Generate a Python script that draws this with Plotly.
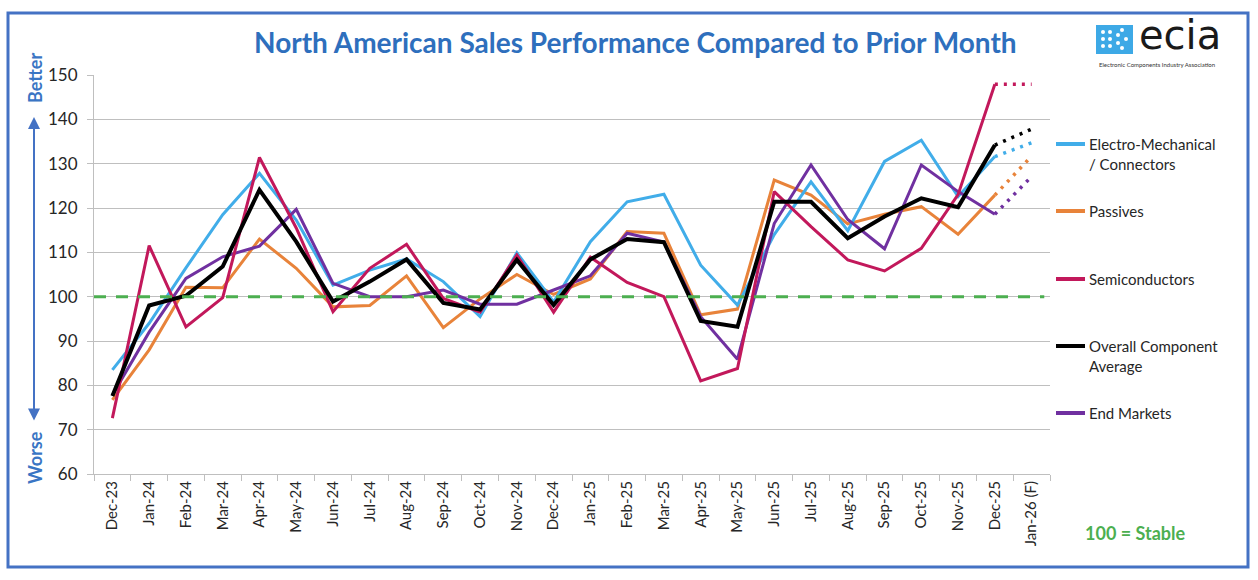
import plotly.graph_objects as go

# ---------------- data ----------------
categories = ["Dec-23", "Jan-24", "Feb-24", "Mar-24", "Apr-24", "May-24", "Jun-24", "Jul-24",
              "Aug-24", "Sep-24", "Oct-24", "Nov-24", "Dec-24", "Jan-25", "Feb-25", "Mar-25",
              "Apr-25", "May-25", "Jun-25", "Jul-25", "Aug-25", "Sep-25", "Oct-25", "Nov-25",
              "Dec-25", "Jan-26 (F)"]

electro_mech = [83.5, 94, 106.5, 118.5, 127.8, 117.3, 102.6, 106, 108.5, 103.4, 95.5, 109.9, 98.8,
                112.4, 121.4, 123.1, 107.1, 98.1, 114, 125.9, 114.9, 130.5, 135.3, 122.6, 131.6, 134.7]
passives = [76.7, 88, 102.1, 102, 113, 106.4, 97.7, 98, 104.7, 93, 99.5, 105, 100.5,
            104, 114.7, 114.3, 95.9, 97.2, 126.3, 122.9, 116.4, 118.6, 120.3, 114.1, 122.9, 131.7]
semiconductors = [72.6, 111.5, 93.2, 99.8, 131.4, 115.5, 96.6, 106.4, 111.8, 99.6, 96.5, 109.4, 96.5,
                  108.9, 103.2, 100, 81, 83.8, 123.7, 115.8, 108.3, 105.8, 110.9, 123, 147.9, 147.9]
overall_avg = [77.6, 98, 100.2, 106.8, 124.1, 112.4, 98.9, 103.4, 108.4, 98.6, 97.1, 108.3, 98.1,
               108.4, 113, 112.3, 94.5, 93.2, 121.4, 121.4, 113.2, 118.1, 122.2, 120.2, 134.2, 137.8]
end_markets = [77.8, 92, 104.1, 109, 111.4, 119.7, 103, 100, 100, 101.5, 98.3, 98.3, 101.5,
               104.7, 114.3, 112.3, 95.5, 85.9, 116.5, 129.7, 117.4, 110.8, 129.7, 123.7, 118.6, 127.1]

series_names = ["Electro-Mechanical<br>/ Connectors", "Passives", "Semiconductors",
                "Overall Component<br>Average", "End Markets"]
STABLE = 100
FORECAST_POINTS = 2  # last segment is dotted (forecast)

# ---------------- styling ----------------
W, H = 1258, 580
L, R, T, B = 94, 208, 75, 106
PW, PH = W - L - R, H - T - B
FONT = "Lato"

def px(x):
    return (x - L) / PW

def py(y):
    return (H - B - y) / PH

colors = ["#41ADE9", "#E8833A", "#C2185B", "#000000", "#7030A0"]
widths = [3, 3, 3, 4, 3]
all_series = [electro_mech, passives, semiconductors, overall_avg, end_markets]
draw_order = [1, 0, 4, 2, 3]

fig = go.Figure()
for i in draw_order:
    vals = all_series[i]
    n_solid = len(vals) - FORECAST_POINTS + 1
    fig.add_trace(go.Scatter(x=categories[:n_solid], y=vals[:n_solid], mode="lines",
                             line=dict(color=colors[i], width=widths[i]),
                             name=series_names[i], showlegend=False, hoverinfo="skip"))
    fig.add_trace(go.Scatter(x=categories[n_solid - 1:], y=vals[n_solid - 1:], mode="lines",
                             line=dict(color=colors[i], width=3.5, dash="3px,6px"),
                             showlegend=False, hoverinfo="skip"))

shapes = []
shapes.append(dict(type="line", xref="paper", yref="y", x0=0, x1=0.994, y0=STABLE, y1=STABLE,
                   line=dict(color="#4CAF50", width=3, dash="12px,10px"), layer="above"))
shapes.append(dict(type="rect", xref="paper", yref="paper", x0=px(8), x1=px(1248), y0=py(567), y1=py(13),
                   line=dict(color="#4472C4", width=3)))

legend_rows = [(144, 154), (211, 211), (279, 279), (346, 356), (413, 413)]
annotations = []
for i, (ly, ty) in enumerate(legend_rows):
    shapes.append(dict(type="line", xref="paper", yref="paper", x0=px(1056), x1=px(1085),
                       y0=py(ly), y1=py(ly), line=dict(color=colors[i], width=4)))
    annotations.append(dict(xref="paper", yref="paper", x=px(1087), y=py(ty), text=series_names[i],
                            showarrow=False, xanchor="left", yanchor="middle", align="left",
                            font=dict(family=FONT, size=15, color="#262626")))

annotations.append(dict(xref="paper", yref="paper", x=px(635), y=py(42),
                        text="<b>North American Sales Performance Compared to Prior Month</b>",
                        showarrow=False, xanchor="center", yanchor="middle",
                        font=dict(family=FONT, size=28, color="#2E6FBD")))
annotations.append(dict(xref="paper", yref="paper", x=px(1135), y=py(533), text="<b>100 = Stable</b>",
                        showarrow=False, xanchor="center", yanchor="middle",
                        font=dict(family=FONT, size=18, color="#4CAF50")))
annotations.append(dict(xref="paper", yref="paper", x=px(35), y=py(78), text="<b>Better</b>",
                        showarrow=False, textangle=-90, xanchor="center", yanchor="middle",
                        font=dict(family=FONT, size=18, color="#3A75C4")))
annotations.append(dict(xref="paper", yref="paper", x=px(35), y=py(458), text="<b>Worse</b>",
                        showarrow=False, textangle=-90, xanchor="center", yanchor="middle",
                        font=dict(family=FONT, size=18, color="#3A75C4")))
annotations.append(dict(xref="paper", yref="paper", x=px(34), y=py(117), ax=0, ay=305,
                        text="", showarrow=True, arrowhead=2, startarrowhead=2, arrowside="end+start",
                        arrowsize=1.2, arrowwidth=2, arrowcolor="#4472C4"))

# ecia logo
shapes.append(dict(type="rect", xref="paper", yref="paper", x0=px(1096), x1=px(1133), y0=py(54), y1=py(25),
                   fillcolor="#3DA9E6", line=dict(width=0)))
for (cx, cy) in [(1103, 32), (1110, 32), (1103, 39), (1110, 39), (1103, 46), (1110, 46),
                 (1118, 35), (1118, 43), (1126, 39), (1122, 30), (1122, 48)]:
    shapes.append(dict(type="circle", xref="paper", yref="paper", x0=px(cx - 2), x1=px(cx + 2),
                       y0=py(cy + 2), y1=py(cy - 2), fillcolor="white", line=dict(width=0)))
annotations.append(dict(xref="paper", yref="paper", x=px(1137), y=py(35), text="ecia", showarrow=False,
                        xanchor="left", yanchor="middle",
                        font=dict(family="DejaVu Sans", size=40, color="#1A1A1A")))
annotations.append(dict(xref="paper", yref="paper", x=px(1097), y=py(65),
                        text="Electronic Components Industry Association", showarrow=False,
                        xanchor="left", yanchor="middle", font=dict(family=FONT, size=6, color="#333")))

fig.update_layout(
    width=W, height=H,
    margin=dict(l=L, r=R, t=T, b=B, pad=0),
    paper_bgcolor="white", plot_bgcolor="white",
    shapes=shapes, annotations=annotations,
    font=dict(family=FONT, color="#262626"),
    xaxis=dict(type="category", categoryorder="array", categoryarray=categories,
               range=[-0.5, len(categories) - 0.5], showgrid=False,
               showline=True, linecolor="#BFBFBF", linewidth=1,
               ticks="outside", tickson="boundaries", ticklen=6, tickcolor="#BFBFBF",
               tickangle=-90, tickfont=dict(family=FONT, size=15, color="#262626")),
    yaxis=dict(range=[60, 150], dtick=10, showgrid=True, gridcolor="#BFBFBF", gridwidth=1,
               showline=True, linecolor="#BFBFBF", linewidth=1, zeroline=False,
               ticks="outside", ticklen=6, tickcolor="#BFBFBF", ticklabelstandoff=6,
               tickfont=dict(family=FONT, size=17, color="#262626")),
)

fig.write_html("out.html")
